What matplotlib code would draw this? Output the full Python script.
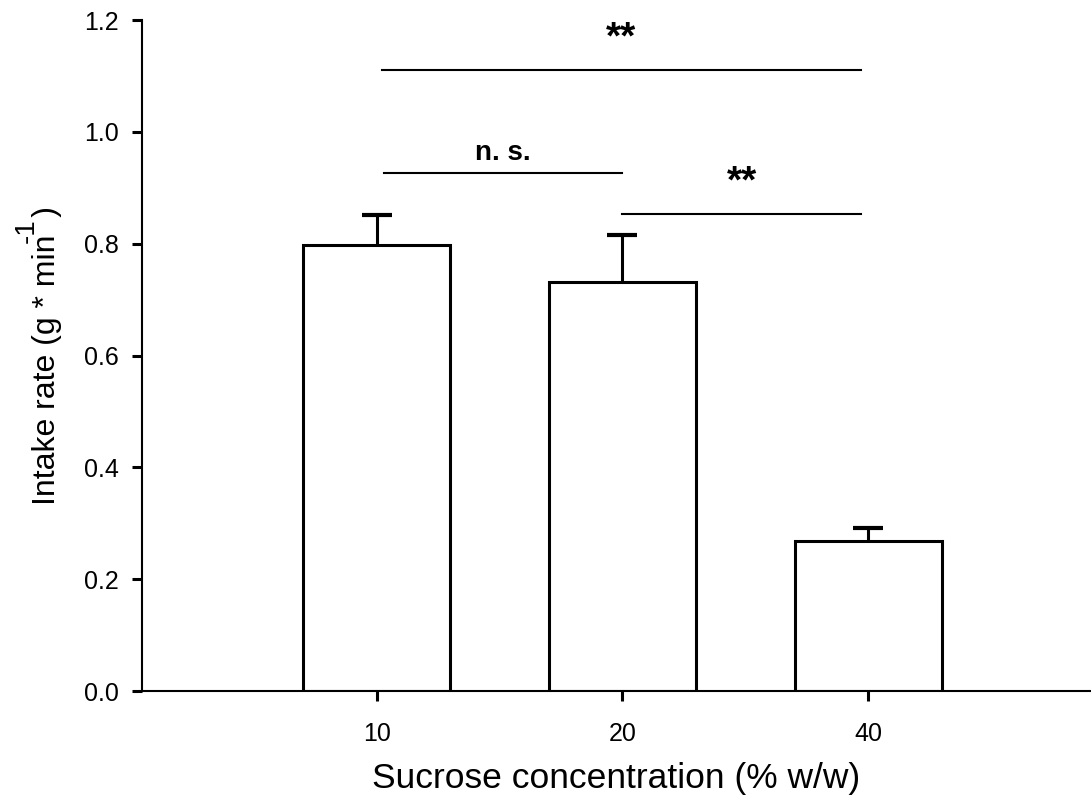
import matplotlib
matplotlib.use('Agg')
import matplotlib.pyplot as plt

plt.rcParams['font.family'] = ['Liberation Sans', 'DejaVu Sans']

concentrations = ['10', '20', '40']
intake_rate = [0.797, 0.731, 0.268]
intake_err = [0.055, 0.084, 0.023]

# significance brackets: (start x, end x, height, label)
sig_pairs = [(1.02, 2.97, 1.11, '**'), (1.03, 2.0, 0.927, 'n. s.'), (2.0, 2.97, 0.854, '**')]

fig = plt.figure(figsize=(10.91, 8.02), dpi=100)
ax = fig.add_axes([0.130, 0.1384, 0.870, 0.8366])

xs = [1, 2, 3]
tops = [v + e for v, e in zip(intake_rate, intake_err)]
ax.vlines(xs, intake_rate, tops, color='black', linewidth=2.2, zorder=1)
ax.plot(xs, tops, linestyle='none', marker='_', markersize=22, markeredgewidth=3,
        color='black', zorder=1)
ax.bar(xs, intake_rate, width=0.6, color='white', edgecolor='black', linewidth=2.2, zorder=2)

for a, b, h, lab in sig_pairs:
    ax.plot([a, b], [h, h], color='black', linewidth=1.5)
    if lab == '**':
        ax.text((a + b) / 2, h + 0.024, lab, ha='center', va='bottom',
                fontsize=28, fontweight='bold')
    else:
        ax.text((a + b) / 2, h + 0.012, lab, ha='center', va='bottom',
                fontsize=20, fontweight='bold')

ax.set_xlim(0.045, 3.906)
ax.set_ylim(0, 1.2)
ax.set_xticks(xs)
ax.set_xticklabels(concentrations)
ax.set_yticks([0, 0.2, 0.4, 0.6, 0.8, 1.0, 1.2])
ax.set_yticklabels(['0.0', '0.2', '0.4', '0.6', '0.8', '1.0', '1.2'])
ax.tick_params(direction='out', length=7.5, width=2.2, labelsize=18)
ax.tick_params(axis='x', pad=15)
ax.tick_params(axis='y', pad=9)

for s in ['top', 'right']:
    ax.spines[s].set_visible(False)
ax.spines['left'].set_linewidth(1.5)
ax.spines['bottom'].set_linewidth(1.5)

ax.set_xlabel('Sucrose concentration (% w/w)', fontsize=25.5, labelpad=11)
ylab = ax.set_ylabel('Intake rate (g * min  )', fontsize=23, labelpad=16)
# big raised exponent, sitting in the gap before ")"
ax.annotate('-1', xy=(0, 1), xycoords=ylab, xytext=(-13, -9), textcoords='offset points',
            rotation=90, ha='left', va='top', fontsize=20, annotation_clip=False)

fig.savefig('out.png', dpi=100)
